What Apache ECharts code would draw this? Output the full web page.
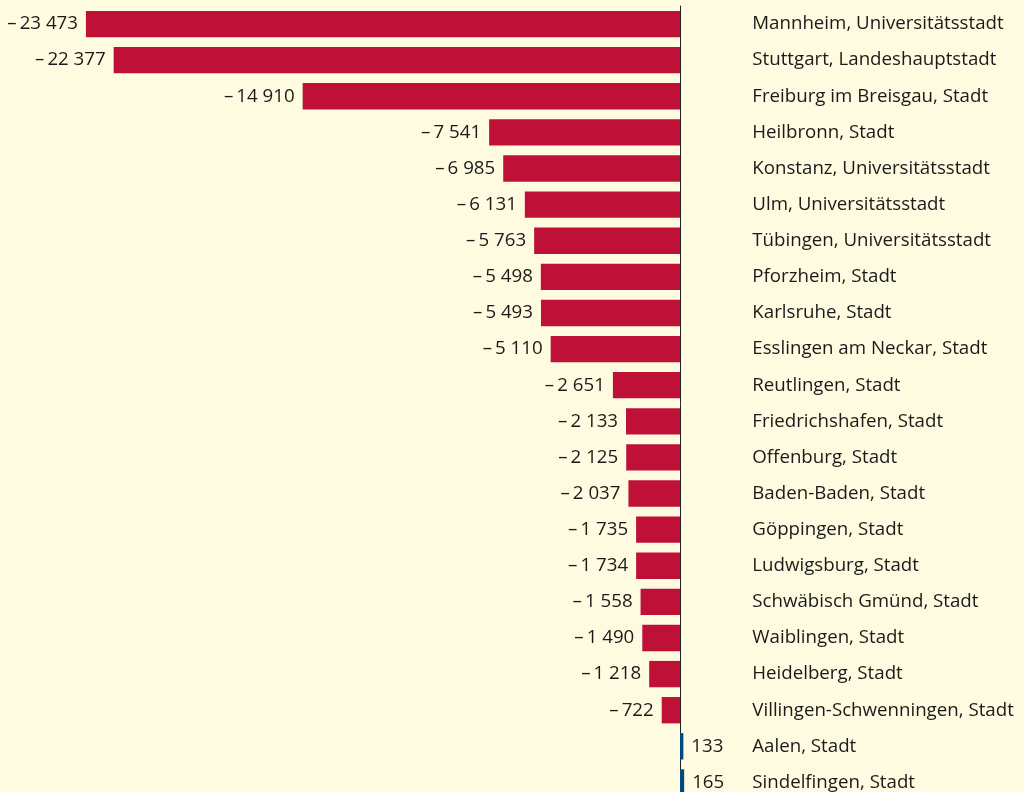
<!DOCTYPE html>
<html>
<head>
<meta charset="utf-8">
<script src="https://cdn.jsdelivr.net/npm/echarts@6/dist/echarts.min.js"></script>
<style>
  html, body { margin: 0; padding: 0; background: #fffbe0; overflow: hidden; }
  #chart { width: 1024px; height: 820px; }
</style>
</head>
<body>
<div id="chart"></div>
<script>
  // Städte (von oben nach unten)
  const cities = [
    'Mannheim, Universitätsstadt',
    'Stuttgart, Landeshauptstadt',
    'Freiburg im Breisgau, Stadt',
    'Heilbronn, Stadt',
    'Konstanz, Universitätsstadt',
    'Ulm, Universitätsstadt',
    'Tübingen, Universitätsstadt',
    'Pforzheim, Stadt',
    'Karlsruhe, Stadt',
    'Esslingen am Neckar, Stadt',
    'Reutlingen, Stadt',
    'Friedrichshafen, Stadt',
    'Offenburg, Stadt',
    'Baden-Baden, Stadt',
    'Göppingen, Stadt',
    'Ludwigsburg, Stadt',
    'Schwäbisch Gmünd, Stadt',
    'Waiblingen, Stadt',
    'Heidelberg, Stadt',
    'Villingen-Schwenningen, Stadt',
    'Aalen, Stadt',
    'Sindelfingen, Stadt'
  ]
  // Saldo
  const values = [
    -23473, -22377, -14910, -7541, -6985, -6131, -5763, -5498, -5493, -5110,
    -2651, -2133, -2125, -2037, -1735, -1734, -1558, -1490, -1218, -722,
    133, 165
  ]

  const negColor = '#bf1037'
  const posColor = '#004a80'

  // Zahlenformat: – 23 473
  function fmt (v) {
    let s = Math.abs(v).toString().replace(/\B(?=(\d{3})+(?!\d))/g, ' ')
    return v < 0 ? '–\u2009' + s : s
  }

  const myChart = echarts.init(document.getElementById('chart'))
  const option = {
    backgroundColor: '#fffbe0',
    animation: false,
    textStyle: { fontFamily: 'Open Sans, sans-serif' },
    grid: {
      left: 72.6,
      width: 632.7,
      top: 6,
      height: 794.5
    },
    xAxis: {
      type: 'value',
      min: -24000,
      max: 1000,
      show: false
    },
    yAxis: {
      type: 'category',
      inverse: true,
      position: 'right',
      data: cities,
      axisTick: { show: false },
      axisLine: {
        onZero: true,
        lineStyle: { color: '#222', width: 1 }
      },
      axisLabel: {
        margin: 47,
        align: 'left',
        color: '#1a1a1a',
        fontSize: 18.7,
        padding: [3, 0, 0, 0]
      },
      splitLine: { show: false }
    },
    series: [{
      type: 'bar',
      barCategoryGap: '27%',
      data: values.map(v => ({
        value: v,
        itemStyle: { color: v < 0 ? negColor : posColor },
        label: {
          show: true,
          position: v < 0 ? 'left' : 'right',
          distance: 8,
          color: '#1a1a1a',
          fontSize: 18.7,
          padding: [3, 0, 0, 0],
          formatter: function (p) { return fmt(p.value) }
        }
      }))
    }]
  }
  myChart.setOption(option)
</script>
</body>
</html>
